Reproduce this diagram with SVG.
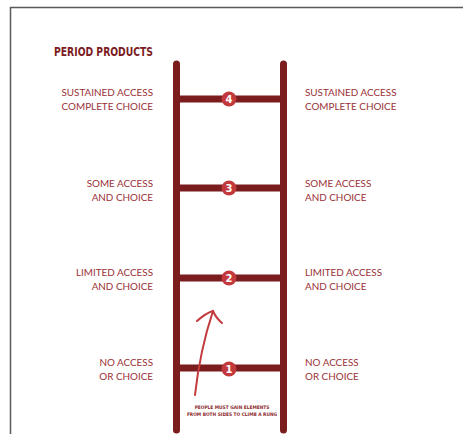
<svg xmlns="http://www.w3.org/2000/svg" width="463" height="434" viewBox="0 0 463 434">
<style>
.lbl{font-family:Lato,"Open Sans","Liberation Sans",sans-serif;font-size:9.9px;fill:#9a3136;}
.l{text-anchor:end;}
.rail{stroke:#7b1c1f;stroke-width:7;stroke-linecap:round;fill:none;}
.rung{stroke:#7b1c1f;stroke-width:7;fill:none;}
.badge circle{fill:#c23a3c;}
.badge text{font-family:"DejaVu Sans","Liberation Sans",sans-serif;font-weight:bold;font-size:10px;fill:#fff;text-anchor:middle;}
</style>
<rect width="463" height="434" fill="#fff"/>
<path d="M10.5 434 V7.5 H463" fill="none" stroke="#5a5a5a" stroke-width="1.5"/>
<text x="54" y="55.5" font-family="'DejaVu Sans Condensed','DejaVu Sans',sans-serif" font-weight="bold" font-size="12" fill="#7b1c1f" textLength="99" lengthAdjust="spacingAndGlyphs">PERIOD PRODUCTS</text>
<g id="ladder">
<line class="rail" x1="176.5" y1="64" x2="176.5" y2="430"/>
<line class="rail" x1="283.5" y1="64" x2="283.5" y2="430"/>
</g>
<g id="connectors">
<line class="rung" x1="176" y1="99" x2="284" y2="99"/>
<line class="rung" x1="176" y1="188" x2="284" y2="188"/>
<line class="rung" x1="176" y1="278" x2="284" y2="278"/>
<line class="rung" x1="176" y1="368" x2="284" y2="368"/>
</g>
<g id="rung4" class="badge"><circle cx="229" cy="99" r="7.5"/><text x="229" y="102.7">4</text></g>
<g id="rung3" class="badge"><circle cx="229" cy="188" r="7.5"/><text x="229" y="191.7">3</text></g>
<g id="rung2" class="badge"><circle cx="229" cy="278" r="7.5"/><text x="229" y="281.7">2</text></g>
<g id="rung1" class="badge"><circle cx="229" cy="369" r="7.5"/><text x="229" y="372.7">1</text></g>
<g id="left4"><text class="lbl l" x="153" y="96">SUSTAINED ACCESS</text><text class="lbl l" x="153" y="110">COMPLETE CHOICE</text></g>
<g id="right4"><text class="lbl" x="305" y="96">SUSTAINED ACCESS</text><text class="lbl" x="305" y="110">COMPLETE CHOICE</text></g>
<g id="left3"><text class="lbl l" x="153" y="187">SOME ACCESS</text><text class="lbl l" x="153" y="201">AND CHOICE</text></g>
<g id="right3"><text class="lbl" x="305" y="187">SOME ACCESS</text><text class="lbl" x="305" y="201">AND CHOICE</text></g>
<g id="left2"><text class="lbl l" x="153" y="276">LIMITED ACCESS</text><text class="lbl l" x="153" y="290">AND CHOICE</text></g>
<g id="right2"><text class="lbl" x="305" y="276">LIMITED ACCESS</text><text class="lbl" x="305" y="290">AND CHOICE</text></g>
<g id="left1"><text class="lbl l" x="153" y="366">NO ACCESS</text><text class="lbl l" x="153" y="380">OR CHOICE</text></g>
<g id="right1"><text class="lbl" x="305" y="366">NO ACCESS</text><text class="lbl" x="305" y="380">OR CHOICE</text></g>
<g id="arrow" fill="none" stroke="#c23a3c" stroke-width="2" stroke-linecap="round">
<path d="M195 395 Q200 350 213 311"/>
<path d="M197 321 Q206 313 213 311 Q216 318 222 323"/>
</g>
<g id="note" font-family="'DejaVu Sans Condensed','DejaVu Sans',sans-serif" font-weight="bold" font-size="4.8" fill="#8b2a2e" text-anchor="middle">
<text x="232" y="409">PEOPLE MUST GAIN ELEMENTS</text>
<text x="232" y="416">FROM BOTH SIDES TO CLIMB A RUNG</text>
</g>
</svg>
